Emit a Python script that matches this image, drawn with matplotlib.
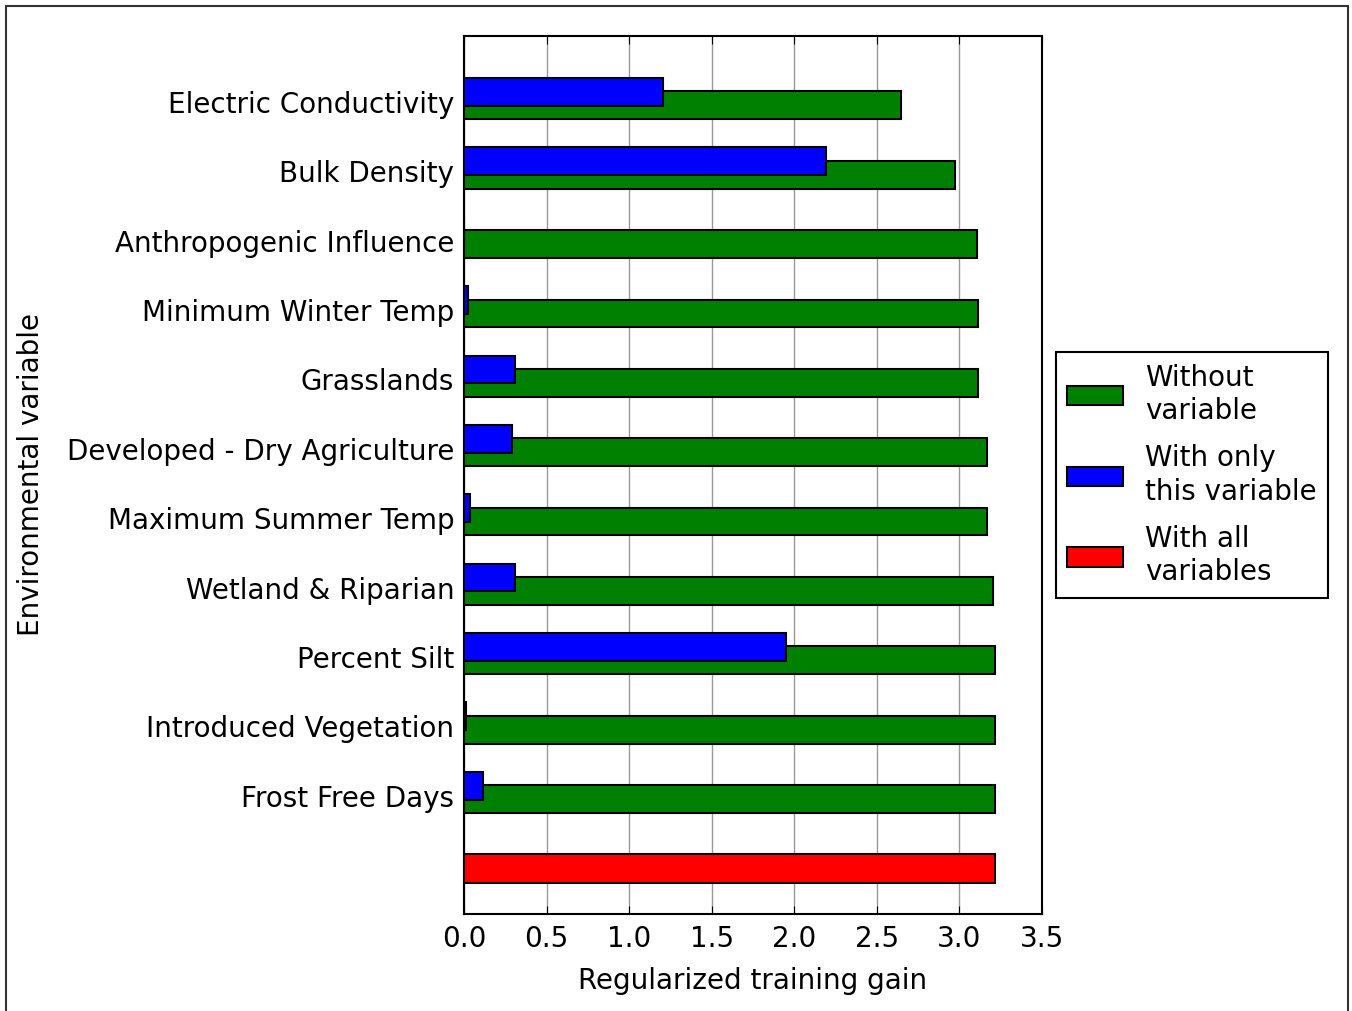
import matplotlib.pyplot as plt
from matplotlib.patches import Patch, Rectangle
import numpy as np

variables = ["Electric Conductivity", "Bulk Density", "Anthropogenic Influence",
             "Minimum Winter Temp", "Grasslands", "Developed - Dry Agriculture",
             "Maximum Summer Temp", "Wetland & Riparian", "Percent Silt",
             "Introduced Vegetation", "Frost Free Days"]
without_var = [2.647, 2.974, 3.107, 3.113, 3.113, 3.168, 3.168, 3.204, 3.216, 3.216, 3.216]
only_var = [1.205, 2.193, 0.002, 0.024, 0.309, 0.291, 0.036, 0.309, 1.950, 0.012, 0.115]
all_vars = 3.216

fig = plt.figure(figsize=(13.52, 10.11), dpi=100)
ax = fig.add_axes([464 / 1352, 1 - 914 / 1011, 578 / 1352, 878 / 1011])

n = len(variables)
pos = np.arange(n, 0, -1)
h = 0.4
ax.barh(pos, without_var, height=h, color="green", edgecolor="black", linewidth=1.5, zorder=2)
ax.barh(pos + 0.193, only_var, height=h, color="blue", edgecolor="black", linewidth=1.5, zorder=3)
ax.barh(0, all_vars, height=0.42, color="red", edgecolor="black", linewidth=1.5, zorder=2)

ax.set_xlim(0, 3.5)
ax.set_ylim(-0.656, 12.0)
ax.set_xticks(np.arange(0, 3.51, 0.5))
ax.set_yticks(pos + 0.05)
ax.set_yticklabels(variables)
ax.tick_params(axis="y", length=0, labelsize=20, pad=7)
ax.tick_params(axis="x", direction="in", length=6, top=True, labelsize=20, pad=8)
ax.grid(axis="x", color="#999999", linewidth=1, zorder=0)
ax.set_axisbelow(True)
for s in ax.spines.values():
    s.set_linewidth(1.5)

ax.set_xlabel("Regularized training gain", fontsize=20, labelpad=10)
ax.set_ylabel("Environmental variable", fontsize=20, labelpad=16)

handles = [Patch(facecolor="green", edgecolor="black", linewidth=1.5),
           Patch(facecolor="blue", edgecolor="black", linewidth=1.5),
           Patch(facecolor="red", edgecolor="black", linewidth=1.5)]
labels = ["Without\nvariable", "With only\nthis variable", "With all\nvariables"]
leg = fig.legend(handles, labels, loc="center left", bbox_to_anchor=(1056 / 1352, 1 - 475 / 1011),
                 fontsize=20, fancybox=False, edgecolor="black", framealpha=1,
                 handlelength=2.0, handleheight=0.7, labelspacing=0.69, borderpad=0.4,
                 handletextpad=0.8, borderaxespad=0)
leg.get_frame().set_linewidth(1.5)
for t in leg.get_texts():
    t.set_linespacing(1.25)

fig.patches.append(Rectangle((6 / 1352, -0.01), 1342 / 1352, 1 - 6 / 1011 + 0.01,
                             transform=fig.transFigure, fill=False,
                             edgecolor="#333333", linewidth=1.5))

fig.savefig("out.png", dpi=100)
